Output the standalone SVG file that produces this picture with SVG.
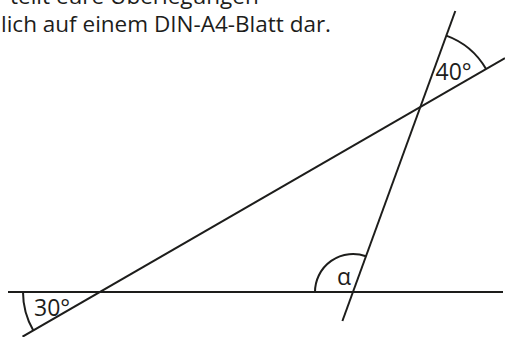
<svg xmlns="http://www.w3.org/2000/svg" width="505" height="337" viewBox="0 0 505 337">
<style>
.ln{stroke:#1d1d1b;stroke-width:2;fill:none;stroke-linecap:butt}
.arc{stroke:#1d1d1b;stroke-width:2;fill:none}
.t{font-family:"Open Sans","Noto Sans","DejaVu Sans",sans-serif;fill:#1d1d1b}
.lbl{font-family:"Open Sans","Noto Sans","DejaVu Sans",sans-serif;font-size:23px;fill:#1d1d1b}
</style>
<rect width="505" height="337" fill="#ffffff"/>
<g id="caption">
<text class="t" x="10" y="4" font-size="22.5">teilt eure Überlegungen</text>
<text class="t" x="1" y="32" font-size="22.5">lich auf einem DIN-A4-Blatt dar.</text>
</g>
<g id="connectors">
<line class="ln" x1="8" y1="292" x2="503" y2="292"/>
<line class="ln" x1="22.5" y1="336.7" x2="505" y2="58.2"/>
<line class="ln" x1="455.3" y1="11" x2="342.4" y2="321"/>
</g>
<g id="angle30">
<path class="arc" d="M23,292 A77,77 0 0 0 33.32,330.5"/>
<text class="lbl" x="34" y="315.5">30°</text>
</g>
<g id="angle40">
<path class="arc" d="M446.3,35.6 A76,76 0 0 1 486.1,69.05"/>
<text class="lbl" x="435.5" y="79.5">40°</text>
</g>
<g id="angleAlpha">
<path class="arc" d="M315,292 A38,38 0 0 1 366,256.3"/>
<text class="lbl" x="344" y="284.5" font-size="26" text-anchor="middle">α</text>
</g>
</svg>
